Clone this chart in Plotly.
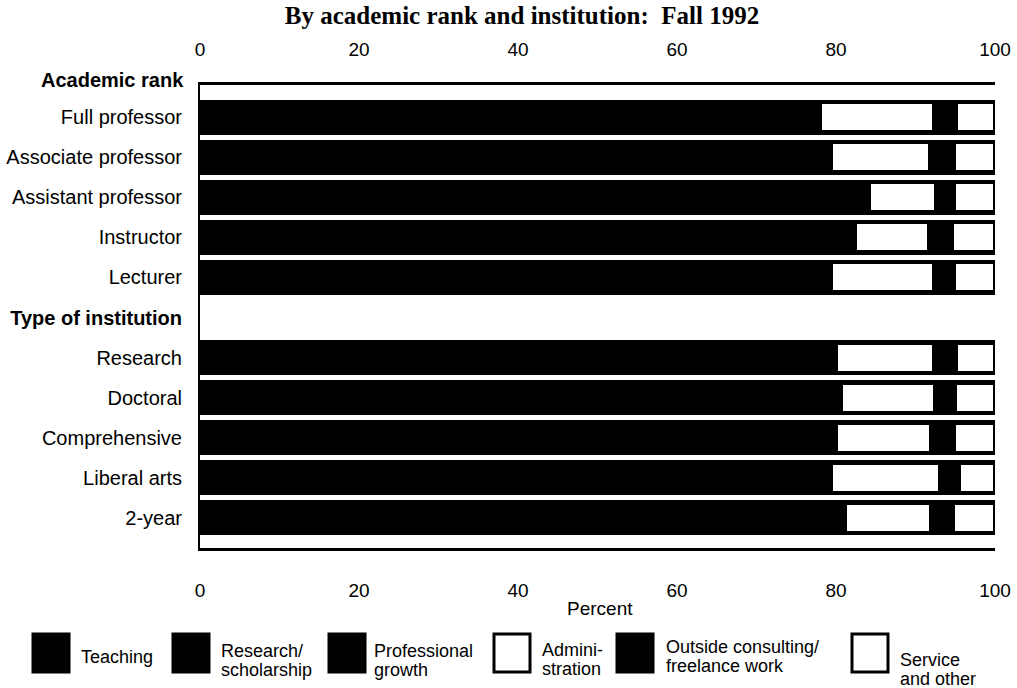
import plotly.graph_objects as go

# rows top to bottom; "Type of institution" is a group header with no bar
categories = [
    "Full professor", "Associate professor", "Assistant professor", "Instructor", "Lecturer",
    "Type of institution",
    "Research", "Doctoral", "Comprehensive", "Liberal arts", "2-year",
]
teaching = [50.0, 55.0, 58.5, 72.0, 70.5, None, 43.5, 52.0, 63.5, 65.8, 72.2]
research = [24.0, 20.2, 21.5, 6.3, 5.0, None, 32.8, 24.6, 12.4, 9.6, 4.9]
prof_growth = [3.9, 4.1, 4.1, 4.0, 3.8, None, 3.7, 4.0, 4.1, 4.0, 4.0]
administration = [14.4, 12.6, 8.5, 9.4, 13.1, None, 12.3, 11.9, 12.0, 13.7, 10.9]
consulting = [2.7, 2.9, 2.2, 2.8, 2.4, None, 2.7, 2.4, 2.8, 2.3, 2.7]
service = [5.0, 5.2, 5.2, 5.5, 5.2, None, 5.0, 5.1, 5.2, 4.6, 5.3]

series_names = ["Teaching", "Research/<br>scholarship", "Professional<br>growth",
                "Admini-<br>stration", "Outside consulting/<br>freelance work", "Service<br>and other"]
series_values = [teaching, research, prof_growth, administration, consulting, service]
series_fill = ["#000000", "#000000", "#000000", "#ffffff", "#000000", "#ffffff"]

tick_vals = [0, 20, 40, 60, 80, 100]

FONT = "Liberation Sans, Arial, sans-serif"
W, H = 1017, 688
L, R, T, B = 200, 995, 85, 548  # plot area in pixels


def px_x(p):
    return (p - L) / (R - L)


def px_y(p):
    return (B - p) / (B - T)


fig = go.Figure()
for name, vals, fill in zip(series_names, series_values, series_fill):
    fig.add_trace(go.Bar(
        y=categories, x=vals, orientation="h", name=name,
        marker=dict(color=fill, line=dict(color="#000000", width=4.5)),
        width=0.76, showlegend=False,
    ))

# invisible copy so the top axis gets drawn
fig.add_trace(go.Bar(y=categories, x=teaching, orientation="h", xaxis="x2",
                     marker=dict(color="rgba(0,0,0,0)", line=dict(width=0)), width=0.76,
                     showlegend=False, hoverinfo="skip"))

tick_text = [f"<b>{c}</b>" if c == "Type of institution" else c for c in categories]

fig.update_layout(
    width=W, height=H,
    barmode="stack",
    plot_bgcolor="#ffffff", paper_bgcolor="#ffffff",
    margin=dict(l=L, r=W - R, t=T, b=H - B, autoexpand=False),
    title=dict(text="<b>By academic rank and institution:  Fall 1992</b>",
               x=522 / W, xanchor="center", y=1 - 15 / H, yanchor="middle",
               font=dict(family="Liberation Serif, Times New Roman, serif", size=25, color="#000000")),
    xaxis=dict(range=[0, 100], tickvals=tick_vals, showgrid=False, zeroline=False,
               showline=True, linecolor="#000000", linewidth=3, mirror=True,
               ticks="", ticklabelstandoff=23, fixedrange=True, automargin=False,
               tickfont=dict(family=FONT, size=19, color="#000000")),
    xaxis2=dict(range=[0, 100], tickvals=tick_vals, overlaying="x", side="top",
                matches="x", showgrid=False, zeroline=False, showline=False,
                ticks="", ticklabelstandoff=24, fixedrange=True, automargin=False,
                tickfont=dict(family=FONT, size=19, color="#000000")),
    yaxis=dict(categoryorder="array", categoryarray=categories,
               tickvals=categories, ticktext=tick_text,
               range=[10.75, -0.8], showgrid=False, zeroline=False,
               showline=True, linecolor="#000000", linewidth=2,
               ticks="", ticklabelstandoff=12, fixedrange=True, automargin=False,
               tickfont=dict(family=FONT, size=20, color="#000000")),
)

fig.add_annotation(text="<b>Academic rank</b>", xref="paper", yref="paper",
                   x=px_x(186), y=px_y(80), xanchor="right", yanchor="middle",
                   showarrow=False, font=dict(family=FONT, size=20, color="#000000"))
fig.add_annotation(text="Percent", xref="paper", yref="paper",
                   x=px_x(600), y=px_y(608), xanchor="center", yanchor="middle",
                   showarrow=False, font=dict(family=FONT, size=19, color="#000000"))

# hand-drawn legend with large swatches, one annotation per text line
swatch_left = [33, 173, 329, 494, 617, 852]
text_left = [79, 219, 372, 540, 664, 898]
first_line_y = [657, 651, 651, 650, 647, 660]
for name, fill, sx, tx, ty in zip(series_names, series_fill, swatch_left, text_left, first_line_y):
    fig.add_shape(type="rect", xref="paper", yref="paper",
                  x0=px_x(sx), x1=px_x(sx + 36), y0=px_y(672), y1=px_y(634),
                  fillcolor=fill, line=dict(color="#000000", width=3))
    for i, line in enumerate(name.split("<br>")):
        fig.add_annotation(text=line, xref="paper", yref="paper", x=px_x(tx),
                           y=px_y(ty + i * 18.5), xanchor="left", yanchor="middle",
                           showarrow=False,
                           font=dict(family=FONT, size=18, color="#000000"))

# the page's default body margin would shift the figure by 8px
fig.write_html("out.html", config={"displayModeBar": False},
               post_script="document.body.style.margin='0';")
